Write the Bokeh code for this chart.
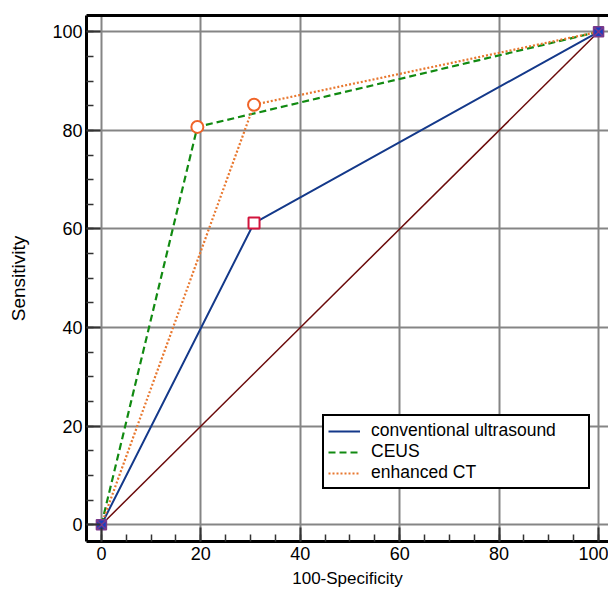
from bokeh.plotting import figure
from bokeh.models import Range1d, LinearAxis, Legend, LegendItem, SingleIntervalTicker, FixedTicker
from bokeh.embed import file_html
from bokeh.resources import INLINE

# ---- data ----
fpr_conv = [0, 30.7, 100]
tpr_conv = [0, 61.2, 100]
fpr_ceus = [0, 19.3, 100]
tpr_ceus = [0, 80.7, 100]
fpr_ct = [0, 30.7, 100]
tpr_ct = [0, 85.2, 100]
ref_x = [0, 100]
ref_y = [0, 100]
labels = ["conventional ultrasound", "CEUS", "enhanced CT"]

FONT = "Liberation Sans"

p = figure(width=608, height=590, output_backend="svg", toolbar_location=None,
           x_range=Range1d(-3, 102), y_range=Range1d(-3.4, 103.3),
           min_border_left=86, min_border_bottom=49, min_border_top=15,
           min_border_right=0)
p.outline_line_color = None
p.background_fill_color = "white"

for ax in (p.xaxis[0], p.yaxis[0]):
    ax.ticker = SingleIntervalTicker(interval=20, num_minor_ticks=4)
    ax.axis_line_width = 3
    ax.axis_line_color = "black"
    ax.major_tick_in = 14
    ax.major_tick_out = 0
    ax.minor_tick_in = 7
    ax.minor_tick_out = 0
    ax.major_tick_line_color = "#333333"
    ax.minor_tick_line_color = "#333333"
    ax.major_tick_line_width = 2
    ax.minor_tick_line_width = 1.5
    ax.major_label_text_font = FONT
    ax.major_label_text_font_size = "18px"
    ax.major_label_text_color = "black"
    ax.axis_label_text_font = FONT
    ax.axis_label_text_font_style = "normal"
    ax.axis_label_text_color = "black"

p.xaxis.axis_label = "100-Specificity"
p.yaxis.axis_label = "Sensitivity"
p.xaxis.axis_label_text_font_size = "17px"
p.yaxis.axis_label_text_font_size = "19px"
p.xaxis.major_label_standoff = 5
p.yaxis.major_label_standoff = 4
p.xaxis.axis_label_standoff = 6
p.yaxis.axis_label_standoff = 20

top = LinearAxis(ticker=FixedTicker(ticks=[]), axis_line_width=3, axis_line_color="black",
                 major_tick_in=0, major_tick_out=0, minor_tick_in=0, minor_tick_out=0,
                 major_label_standoff=0)
p.add_layout(top, "above")

p.xgrid.ticker = SingleIntervalTicker(interval=20)
p.ygrid.ticker = SingleIntervalTicker(interval=20)
p.grid.grid_line_color = "#858585"
p.grid.grid_line_width = 2

# reference diagonal
p.line(ref_x, ref_y, line_color="#6b0a0a", line_width=1.5)

r_conv = p.line(fpr_conv, tpr_conv, line_color="#14398a", line_width=2)
r_ceus = p.line(fpr_ceus, tpr_ceus, line_color="#118a11", line_width=2.2, line_dash="7 4")
r_ct = p.line(fpr_ct, tpr_ct, line_color="#e8772e", line_width=2.2, line_dash="2 2")

p.scatter(fpr_conv[1:2], tpr_conv[1:2], marker="square", size=11, fill_color="white",
          line_color="#d2143c", line_width=2)
p.scatter(fpr_ceus[1:2], tpr_ceus[1:2], marker="circle", size=12, fill_color="white",
          line_color="#f06428", line_width=2)
p.scatter(fpr_ct[1:2], tpr_ct[1:2], marker="circle", size=12, fill_color="white",
          line_color="#f06428", line_width=2)
p.scatter(ref_x, ref_y, marker="square_x", size=10, fill_color="#1a3fc0",
          line_color="#7a3a8a", line_width=1.5)

legend = Legend(items=[LegendItem(label=labels[0], renderers=[r_conv]),
                       LegendItem(label=labels[1], renderers=[r_ceus]),
                       LegendItem(label=labels[2], renderers=[r_ct])],
                location=(236, 52))
legend.border_line_color = "black"
legend.border_line_alpha = 1
legend.border_line_width = 2
legend.label_text_font = FONT
legend.label_text_color = "black"
legend.label_text_font_size = "17.5px"
legend.glyph_width = 32
legend.glyph_height = 16
legend.label_height = 16
legend.spacing = 0
legend.padding = 4
legend.margin = 0
legend.label_standoff = 11
legend.label_width = 213
legend.background_fill_alpha = 1
p.add_layout(legend, "center")

open("out.html", "w").write(file_html(p, INLINE))
